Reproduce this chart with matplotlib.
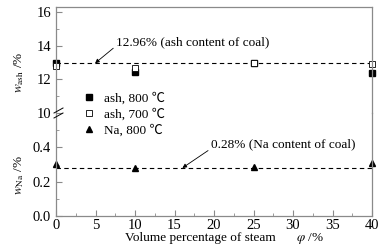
import numpy as np
import matplotlib
matplotlib.use('Agg')
import matplotlib.pyplot as plt
from matplotlib.lines import Line2D

plt.rcParams['font.family'] = ['Liberation Serif', 'Noto Sans CJK SC', 'DejaVu Serif']
plt.rcParams['mathtext.fontset'] = 'stix'
plt.rcParams['font.size'] = 9.5

# data
steam = [0, 10, 25, 40]
ash_800 = [12.98, 12.45, 12.96, 12.38]
ash_700 = [12.80, 12.70, 12.98, 12.91]
na_800 = [0.305, 0.28, 0.285, 0.31]
ash_coal = 12.96
na_coal = 0.28

W, H = 392, 248
fig = plt.figure(figsize=(W / 100, H / 100), dpi=100)
spine_c = '#8a8a8a'

ax_top = fig.add_axes([56 / W, (H - 113) / H, 316 / W, 106 / H])
ax_bot = fig.add_axes([56 / W, (H - 216) / H, 316 / W, 103 / H])

for ax in (ax_top, ax_bot):
    ax.set_xlim(0, 40)
    for s in ax.spines.values():
        s.set_color(spine_c)
        s.set_linewidth(0.9)
    ax.tick_params(which='both', direction='in', color=spine_c, right=False, top=False,
                   labelsize=10.5)
    ax.tick_params(which='major', length=4)
    ax.tick_params(which='minor', length=2.5)
    ax.patch.set_alpha(0)

ax_top.spines['bottom'].set_visible(False)
ax_bot.spines['top'].set_visible(False)

# top part: ash
ax_top.set_ylim(10, 16.3)
ax_top.set_yticks([10, 12, 14, 16])
ax_top.set_yticks([11, 13, 15], minor=True)
ax_top.set_xticks([])
ax_top.set_xticks([], minor=True)
ax_top.axhline(ash_coal, color='k', ls='--', lw=0.8, dashes=(4, 3))
ax_top.plot(steam, ash_800, 's', ms=4, mfc='k', mec='k', ls='none', clip_on=False)
ax_top.plot(steam, ash_700, 's', ms=4, mfc='white', mec='k', mew=0.6, ls='none', clip_on=False)
ax_top.annotate('12.96% (ash content of coal)', xy=(4.95, ash_coal), xytext=(7.6, 14.2),
                va='center', ha='left',
                arrowprops=dict(arrowstyle='-|>', lw=0.6, color='k', mutation_scale=6,
                                shrinkA=0, shrinkB=0, relpos=(0, 0.2)))

# bottom part: Na
ax_bot.set_ylim(0, 0.6)
ax_bot.set_yticks([0.0, 0.2, 0.4])
ax_bot.set_yticklabels(['0.0', '0.2', '0.4'])
ax_bot.set_yticks([0.1, 0.3, 0.5], minor=True)
ax_bot.set_xticks(np.arange(0, 41, 5))
ax_bot.set_xticks(np.arange(2.5, 40, 5), minor=True)
ax_bot.axhline(na_coal, color='k', ls='--', lw=0.8, dashes=(4, 3))
ax_bot.plot(steam, na_800, '^', ms=4.5, mfc='k', mec='k', ls='none', clip_on=False)
ax_bot.annotate('0.28% (Na content of coal)', xy=(16.0, na_coal), xytext=(19.6, 0.42),
                va='center', ha='left',
                arrowprops=dict(arrowstyle='-|>', lw=0.6, color='k', mutation_scale=6,
                                shrinkA=0, shrinkB=0, relpos=(0, 0.1)))
ax_bot.tick_params(axis='x', pad=2)

# axis break marks on left spine
for dy in (-2.5, 2.5):
    fig.add_artist(Line2D([54 / W, 63 / W], [(H - 113 - dy - 2.5) / H, (H - 113 - dy + 2.5) / H],
                          color='k', lw=0.7))

# legend
handles = [
    Line2D([], [], marker='s', ms=4, mfc='k', mec='k', ls='none'),
    Line2D([], [], marker='s', ms=4, mfc='white', mec='k', mew=0.6, ls='none'),
    Line2D([], [], marker='^', ms=4.5, mfc='k', mec='k', ls='none'),
]
labels = ['ash, 800 \u2103', 'ash, 700 \u2103', 'Na, 800 \u2103']
fig.legend(handles, labels, loc='upper left', bbox_to_anchor=(74 / W, 1 - 86 / H),
           frameon=False, handletextpad=0.6, labelspacing=0.25, borderpad=0,
           handlelength=1.2)

# axis labels
fig.text(19 / W, 1 - 72 / H, r'$w_{\rm ash}$ /%', rotation=90, ha='center', va='center')
fig.text(19 / W, 1 - 175 / H, r'$w_{\rm Na}$ /%', rotation=90, ha='center', va='center')
fig.text(200 / W, 1 - 238 / H, 'Volume percentage of steam', ha='center', va='center')
fig.text(296 / W, 1 - 238 / H, r'$\varphi$ /%', ha='left', va='center')

fig.savefig('out.png', dpi=100)
